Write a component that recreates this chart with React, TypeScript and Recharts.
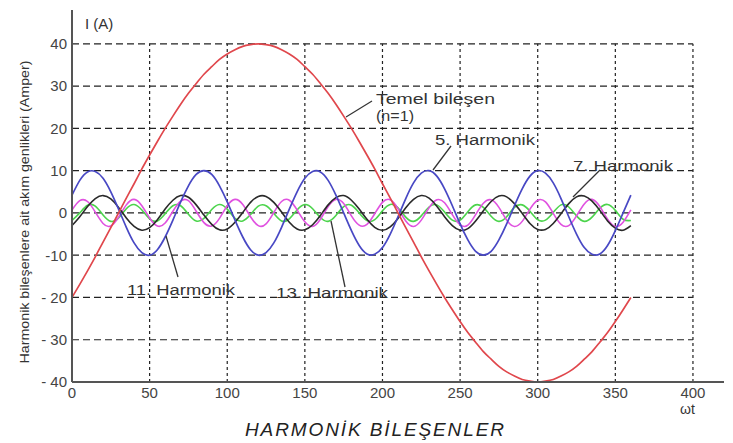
import { LineChart, Line, XAxis, YAxis, ReferenceLine } from "recharts";

// ωt values (degrees), read every 5°
const angles = [
  0, 5, 10, 15, 20, 25, 30, 35, 40, 45, 50, 55, 60, 65, 70, 75, 80, 85, 90, 95,
  100, 105, 110, 115, 120, 125, 130, 135, 140, 145, 150, 155, 160, 165, 170,
  175, 180, 185, 190, 195, 200, 205, 210, 215, 220, 225, 230, 235, 240, 245,
  250, 255, 260, 265, 270, 275, 280, 285, 290, 295, 300, 305, 310, 315, 320,
  325, 330, 335, 340, 345, 350, 355, 360,
];

// Temel bileşen (n=1)
const fundamental = [
  -20, -16.9, -13.7, -10.4, -6.9, -3.5, 0, 3.5, 6.9, 10.4, 13.7, 16.9, 20,
  22.9, 25.7, 28.3, 30.6, 32.8, 34.6, 36.3, 37.6, 38.6, 39.4, 39.8, 40, 39.8,
  39.4, 38.6, 37.6, 36.3, 34.6, 32.8, 30.6, 28.3, 25.7, 22.9, 20, 16.9, 13.7,
  10.4, 6.9, 3.5, 0, -3.5, -6.9, -10.4, -13.7, -16.9, -20, -22.9, -25.7, -28.3,
  -30.6, -32.8, -34.6, -36.3, -37.6, -38.6, -39.4, -39.8, -40, -39.8, -39.4,
  -38.6, -37.6, -36.3, -34.6, -32.8, -30.6, -28.3, -25.7, -22.9, -20,
];

// 5. Harmonik
const harmonic5 = [
  4.2, 7.7, 9.7, 9.8, 8.2, 5.0, 0.9, -3.4, -7.1, -9.4, -10.0, -8.7, -5.7, -1.7,
  2.6, 6.4, 9.1, 10.0, 9.1, 6.4, 2.6, -1.7, -5.7, -8.7, -10.0, -9.4, -7.1, -3.4,
  0.9, 5.0, 8.2, 9.8, 9.7, 7.7, 4.2, 0, -4.2, -7.7, -9.7, -9.8, -8.2, -5.0,
  -0.9, 3.4, 7.1, 9.4, 10.0, 8.7, 5.7, 1.7, -2.6, -6.4, -9.1, -10.0, -9.1,
  -6.4, -2.6, 1.7, 5.7, 8.7, 10.0, 9.4, 7.1, 3.4, -0.9, -5.0, -8.2, -9.8, -9.7,
  -7.7, -4.2, 0, 4.2,
];

// 7. Harmonik
const harmonic7 = [
  -3.0, -0.9, 1.5, 3.4, 4.1, 3.3, 1.3, -1.2, -3.2, -4.1, -3.5, -1.6, 0.9, 3.0,
  4.1, 3.7, 1.9, -0.5, -2.7, -4.0, -3.8, -2.2, 0.1, 2.5, 3.9, 3.9, 2.5, 0.2,
  -2.2, -3.8, -4.0, -2.8, -0.6, 1.9, 3.6, 4.1, 3.0, 0.9, -1.5, -3.4, -4.1, -3.3,
  -1.3, 1.2, 3.2, 4.1, 3.5, 1.6, -0.9, -3.0, -4.1, -3.7, -1.9, 0.5, 2.7, 4.0,
  3.8, 2.2, -0.1, -2.5, -3.9, -3.9, -2.5, -0.2, 2.2, 3.8, 4.0, 2.8, 0.6, -1.9,
  -3.6, -4.1, -3.0,
];

// 11. Harmonik
const harmonic11 = [
  0.7, 2.9, 2.7, 0.2, -2.5, -3.1, -1.0, 1.9, 3.2, 1.7, -1.2, -3.1, -2.4, 0.4,
  2.8, 2.9, 0.4, -2.3, -3.1, -1.3, 1.7, 3.2, 2.0, -0.9, -3.0, -2.6, 0.1, 2.7,
  3.0, 0.7, -2.1, -3.2, -1.5, 1.5, 3.2, 2.2, -0.7, -2.9, -2.7, -0.2, 2.5, 3.1,
  1.0, -1.9, -3.2, -1.7, 1.2, 3.1, 2.4, -0.4, -2.8, -2.9, -0.4, 2.3, 3.1, 1.3,
  -1.7, -3.2, -2.0, 0.9, 3.0, 2.6, -0.1, -2.7, -3.0, -0.7, 2.1, 3.2, 1.5, -1.5,
  -3.2, -2.2, 0.7,
];

// 13. Harmonik
const harmonic13 = [
  -1.8, 0.0, 1.8, 1.6, -0.5, -2.0, -1.2, 1.0, 2.0, 0.7, -1.4, -1.9, -0.2, 1.7,
  1.7, -0.3, -1.9, -1.3, 0.8, 2.0, 0.9, -1.3, -1.9, -0.4, 1.6, 1.7, -0.1, -1.9,
  -1.4, 0.7, 2.0, 1.0, -1.1, -2.0, -0.6, 1.5, 1.8, 0.0, -1.8, -1.6, 0.5, 2.0,
  1.2, -1.0, -2.0, -0.7, 1.4, 1.9, 0.2, -1.7, -1.7, 0.3, 1.9, 1.3, -0.8, -2.0,
  -0.9, 1.3, 1.9, 0.4, -1.6, -1.7, 0.1, 1.9, 1.4, -0.7, -2.0, -1.0, 1.1, 2.0,
  0.6, -1.5, -1.8,
];

const xTicks = [0, 50, 100, 150, 200, 250, 300, 350, 400];
const yTicks = [-40, -30, -20, -10, 0, 10, 20, 30, 40];
const yTickLabels = ["- 40", "- 30", "- 20", "-10", "0", "10", "20", "30", "40"];
const gridRows = [-30, -20, -10, 0, 10, 20, 30, 40];
const gridCols = [50, 100, 150, 200, 250, 300, 350, 400];

const data = angles.map((t, i) => ({
  t,
  n1: fundamental[i],
  n5: harmonic5[i],
  n7: harmonic7[i],
  n11: harmonic11[i],
  n13: harmonic13[i],
}));

const sans = "'Liberation Sans', Arial, sans-serif";
const tickStyle = { fontSize: 15, fill: "#444", fontFamily: sans };
const axisStyle = { stroke: "#555", strokeWidth: 2 };

export default function App() {
  return (
    <div
      style={{
        position: "absolute",
        left: 0,
        top: 0,
        width: 733,
        height: 443,
        background: "#fff",
      }}
    >
      <LineChart
        width={733}
        height={443}
        data={data}
        margin={{ top: 10, right: 9, bottom: 0, left: 0 }}
      >
        <XAxis
          dataKey="t"
          type="number"
          domain={[0, 420]}
          ticks={xTicks}
          tickLine={false}
          tickSize={0}
          tickMargin={5}
          height={61}
          axisLine={axisStyle}
          tick={tickStyle}
        />
        <YAxis
          type="number"
          domain={[-40, 48]}
          ticks={yTicks}
          tickLine={false}
          tickSize={0}
          tickMargin={5}
          width={72}
          axisLine={axisStyle}
          tick={tickStyle}
          tickFormatter={(v: number) => yTickLabels[yTicks.indexOf(v)] ?? ""}
        />
        {gridRows.map((y) => (
          <ReferenceLine
            key={"r" + y}
            segment={[
              { x: 0, y },
              { x: 400, y },
            ]}
            stroke="#222"
            strokeWidth={1.2}
            strokeDasharray="7 4"
          />
        ))}
        {gridCols.map((x) => (
          <ReferenceLine
            key={"c" + x}
            segment={[
              { x, y: -40 },
              { x, y: 40 },
            ]}
            stroke="#222"
            strokeWidth={1.2}
            strokeDasharray="3 3"
          />
        ))}
        <Line type="natural" dataKey="n13" stroke="#4cd44c" strokeWidth={1.6} dot={false} isAnimationActive={false} />
        <Line type="natural" dataKey="n11" stroke="#e052e0" strokeWidth={1.6} dot={false} isAnimationActive={false} />
        <Line type="natural" dataKey="n7" stroke="#2a2a2a" strokeWidth={1.6} dot={false} isAnimationActive={false} />
        <Line type="natural" dataKey="n5" stroke="#4848c4" strokeWidth={1.7} dot={false} isAnimationActive={false} />
        <Line type="natural" dataKey="n1" stroke="#e0474c" strokeWidth={1.7} dot={false} isAnimationActive={false} />
      </LineChart>

      <svg
        width={733}
        height={443}
        style={{ position: "absolute", left: 0, top: 0, pointerEvents: "none" }}
      >
        <g fontFamily={sans} fill="#333">
          <text x={85} y={29} fontSize={15}>I (A)</text>
          <text x={680} y={414} fontSize={14}>ωt</text>
          <text
            transform="translate(29,212) rotate(-90)"
            textAnchor="middle"
            fontSize={13.5}
            textLength={303}
            lengthAdjust="spacingAndGlyphs"
          >
            Harmonik bileşenlere ait akım genlikleri (Amper)
          </text>
          <g fontSize={15.5}>
            <text x={376} y={104} textLength={119} lengthAdjust="spacingAndGlyphs">Temel bileşen</text>
            <text x={376} y={121} textLength={38} lengthAdjust="spacingAndGlyphs">(n=1)</text>
            <text x={435} y={145} textLength={100} lengthAdjust="spacingAndGlyphs">5. Harmonik</text>
            <text x={573} y={171} textLength={100} lengthAdjust="spacingAndGlyphs">7. Harmonik</text>
            <text x={127} y={295} textLength={108} lengthAdjust="spacingAndGlyphs">11. Harmonik</text>
            <text x={276} y={298} textLength={112} lengthAdjust="spacingAndGlyphs">13. Harmonik</text>
          </g>
          <text
            x={245}
            y={436}
            fontSize={19}
            fontStyle="italic"
            fill="#222"
            textLength={259}
          >
            HARMONİK BİLEŞENLER
          </text>
        </g>
        <g stroke="#333" strokeWidth={1.3}>
          <line x1={372} y1={101} x2={346} y2={117} />
          <line x1={451} y1={146} x2={433} y2={170} />
          <line x1={600} y1={170} x2={573} y2={197} />
          <line x1={178} y1={277} x2={166} y2={236} />
          <line x1={345} y1={287} x2={331} y2={221} />
        </g>
      </svg>
    </div>
  );
}
